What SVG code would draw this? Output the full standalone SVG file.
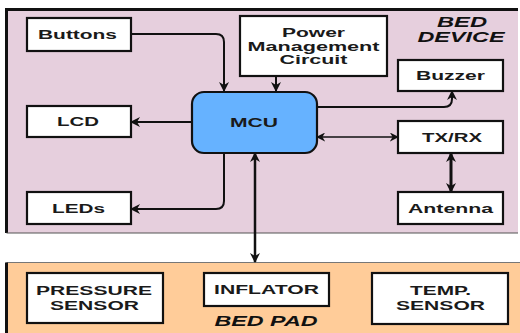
<svg xmlns="http://www.w3.org/2000/svg" width="520" height="333" viewBox="0 0 520 333">
<style>
.box{fill:#fff;stroke:#111;stroke-width:2.2}
.t{font-family:"Liberation Sans",Arial,sans-serif;font-weight:bold;font-size:12px;fill:#1a1a1a}
.ti{font-family:"Liberation Sans",Arial,sans-serif;font-weight:bold;font-style:italic;font-size:14px;fill:#111}
.c{fill:none;stroke:#111;stroke-width:2}
</style>
<defs>
<marker id="ah" viewBox="0 0 10 10" refX="9" refY="5" markerWidth="10" markerHeight="10" markerUnits="userSpaceOnUse" orient="auto-start-reverse">
<path d="M0,0 L10,5 L0,10 L3,5 z" fill="#111"/>
</marker>
<marker id="ahs" viewBox="0 0 10 10" refX="9" refY="5" markerWidth="9" markerHeight="9" markerUnits="userSpaceOnUse" orient="auto-start-reverse">
<path d="M0,0 L10,5 L0,10 L3,5 z" fill="#111"/>
</marker>
</defs>
<rect width="520" height="333" fill="#fff"/>
<g id="bed-device">
<rect x="6.5" y="9.5" width="511.5" height="223.5" fill="#E6CFDD"/>
<path d="M6.5,233 V9.5 H518" fill="none" stroke="#111" stroke-width="3"/>
<line x1="6.5" y1="233" x2="518" y2="233" stroke="#555" stroke-width="1.2"/>
<text class="ti" x="462" y="27" text-anchor="middle" textLength="50" lengthAdjust="spacingAndGlyphs">BED</text>
<text class="ti" x="461" y="42" text-anchor="middle" textLength="87" lengthAdjust="spacingAndGlyphs">DEVICE</text>
</g>
<g id="bed-pad">
<rect x="6.5" y="262.5" width="513.5" height="71" fill="#FFCC99"/>
<line x1="6.5" y1="262.5" x2="520" y2="262.5" stroke="#777" stroke-width="1.2"/>
<line x1="6.5" y1="262.5" x2="6.5" y2="333" stroke="#111" stroke-width="3"/>
<text class="ti" x="266" y="326" text-anchor="middle" textLength="103" lengthAdjust="spacingAndGlyphs">BED PAD</text>
</g>
<g id="connectors">
<path class="c" d="M131,34 H216 Q224,34 224,42 V91" marker-end="url(#ah)"/>
<path class="c" d="M276,76 V91" marker-end="url(#ah)"/>
<path class="c" d="M317,107 H444 Q452,107 452,99 V91" marker-end="url(#ah)"/>
<path class="c" d="M192,122 H131" marker-end="url(#ah)"/>
<path class="c" d="M224,153 V201 Q224,209 216,209 H131" marker-end="url(#ah)"/>
<path class="c" d="M317,137 H398" style="stroke-width:1.5" marker-start="url(#ahs)" marker-end="url(#ahs)"/>
<path class="c" d="M451,153 V192" style="stroke-width:3" marker-start="url(#ah)" marker-end="url(#ah)"/>
<path class="c" d="M255,153 V262" style="stroke-width:2.5" marker-start="url(#ah)" marker-end="url(#ah)"/>
</g>
<g id="buttons"><rect class="box" x="27" y="18" width="104" height="33"/><text class="t" x="77.5" y="39" text-anchor="middle" textLength="79" lengthAdjust="spacingAndGlyphs">Buttons</text></g>
<g id="power"><rect class="box" x="240" y="16" width="147" height="60"/>
<text class="t" x="313.5" y="37" text-anchor="middle" textLength="63" lengthAdjust="spacingAndGlyphs">Power</text>
<text class="t" x="313.5" y="50.5" text-anchor="middle" textLength="132" lengthAdjust="spacingAndGlyphs">Management</text>
<text class="t" x="313.5" y="64" text-anchor="middle" textLength="68" lengthAdjust="spacingAndGlyphs">Circuit</text></g>
<g id="buzzer"><rect class="box" x="398" y="60" width="105" height="31"/><text class="t" x="450.5" y="80" text-anchor="middle" textLength="69" lengthAdjust="spacingAndGlyphs">Buzzer</text></g>
<g id="mcu"><rect x="192" y="92" width="125" height="61" rx="12" ry="12" fill="#66B2FF" stroke="#111" stroke-width="2.2"/><text class="t" x="254" y="126.5" text-anchor="middle" textLength="48" lengthAdjust="spacingAndGlyphs">MCU</text></g>
<g id="lcd"><rect class="box" x="27" y="106" width="104" height="31"/><text class="t" x="78" y="126" text-anchor="middle" textLength="42" lengthAdjust="spacingAndGlyphs">LCD</text></g>
<g id="leds"><rect class="box" x="27" y="192" width="104" height="32"/><text class="t" x="78.5" y="212.5" text-anchor="middle" textLength="53" lengthAdjust="spacingAndGlyphs">LEDs</text></g>
<g id="txrx"><rect class="box" x="398" y="121" width="105" height="32"/><text class="t" x="452" y="142" text-anchor="middle" textLength="60" lengthAdjust="spacingAndGlyphs">TX/RX</text></g>
<g id="antenna"><rect class="box" x="398" y="192" width="105" height="32"/><text class="t" x="450.5" y="212.5" text-anchor="middle" textLength="85" lengthAdjust="spacingAndGlyphs">Antenna</text></g>
<g id="pressure"><rect class="box" x="27" y="273" width="136" height="50"/>
<text class="t" x="94" y="295" text-anchor="middle" textLength="116" lengthAdjust="spacingAndGlyphs">PRESSURE</text>
<text class="t" x="94.5" y="309.5" text-anchor="middle" textLength="89" lengthAdjust="spacingAndGlyphs">SENSOR</text></g>
<g id="inflator"><rect class="box" x="204" y="273" width="125" height="33"/><text class="t" x="266.5" y="294" text-anchor="middle" textLength="105" lengthAdjust="spacingAndGlyphs">INFLATOR</text></g>
<g id="temp"><rect class="box" x="372" y="273" width="136" height="51"/>
<text class="t" x="440.5" y="295" text-anchor="middle" textLength="61" lengthAdjust="spacingAndGlyphs">TEMP.</text>
<text class="t" x="440.5" y="310" text-anchor="middle" textLength="89" lengthAdjust="spacingAndGlyphs">SENSOR</text></g>
</svg>
